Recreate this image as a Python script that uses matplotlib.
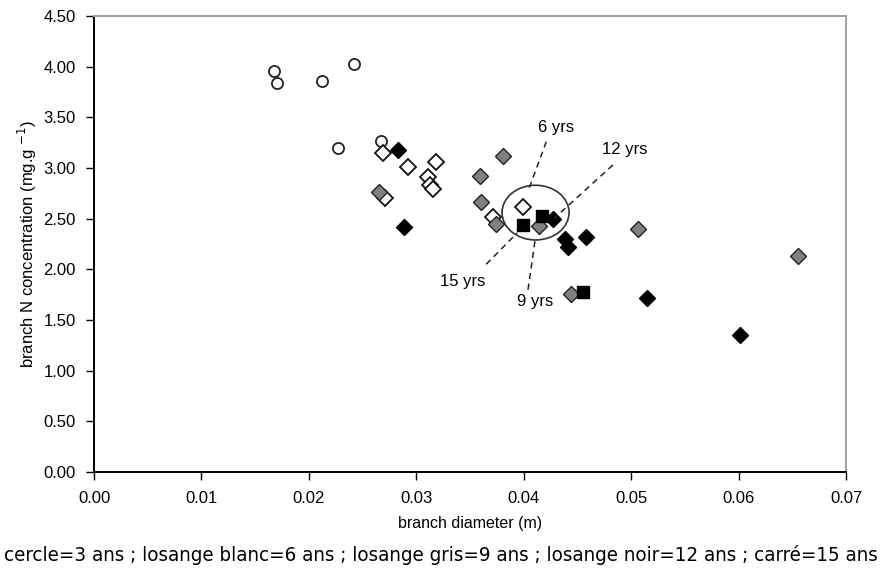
import matplotlib
matplotlib.use('Agg')
import matplotlib.pyplot as plt
from matplotlib.patches import Ellipse

plt.rcParams['font.family'] = ['Liberation Sans', 'DejaVu Sans']

# 3 yrs (circles)
d3 = [0.0168, 0.0170, 0.0212, 0.0242, 0.0227, 0.0267]
n3 = [3.96, 3.84, 3.86, 4.03, 3.20, 3.27]
# 6 yrs (white diamonds)
d6 = [0.0269, 0.0292, 0.0318, 0.0311, 0.0313, 0.0316, 0.0271, 0.0371, 0.0399]
n6 = [3.15, 3.01, 3.06, 2.91, 2.83, 2.79, 2.70, 2.52, 2.62]
# 9 yrs (grey diamonds)
d9 = [0.0265, 0.0381, 0.0359, 0.0360, 0.0374, 0.0414, 0.0444, 0.0506, 0.0655]
n9 = [2.76, 3.12, 2.92, 2.66, 2.45, 2.43, 1.76, 2.40, 2.13]
# 12 yrs (black diamonds)
d12 = [0.0283, 0.0289, 0.0427, 0.0438, 0.0441, 0.0458, 0.0515, 0.0601]
n12 = [3.18, 2.42, 2.50, 2.30, 2.22, 2.32, 1.72, 1.35]
# 15 yrs (squares)
d15 = [0.0399, 0.0417, 0.0455]
n15 = [2.44, 2.53, 1.78]

xticks = [0.00, 0.01, 0.02, 0.03, 0.04, 0.05, 0.06, 0.07]
yticks = [0.0, 0.5, 1.0, 1.5, 2.0, 2.5, 3.0, 3.5, 4.0, 4.5]

fig = plt.figure(figsize=(8.81, 5.70), dpi=100)
ax = fig.add_axes([0.1067, 0.1719, 0.8536, 0.8000])

ax.plot(d3, n3, 'o', ms=8, mfc='white', mec='#222222', mew=1.3, ls='none')
ax.plot(d6, n6, 'D', ms=8, mfc='white', mec='#111111', mew=1.3, ls='none')
ax.plot(d9, n9, 'D', ms=8, mfc='#808080', mec='#222222', mew=1.0, ls='none')
ax.plot(d12, n12, 'D', ms=8, mfc='black', mec='black', mew=1.0, ls='none')
ax.plot(d15, n15, 's', ms=8, mfc='black', mec='black', ls='none')

# circled group and dashed pointer lines
ax.add_patch(Ellipse((0.0411, 2.56), 0.00624, 0.54, fill=False,
                     ec='#333333', lw=1.2))
lk = dict(color='#222222', ls=(0, (4, 3)), lw=1.1)
ax.plot([0.0421, 0.0405], [3.26, 2.80], **lk)
ax.plot([0.0483, 0.0428], [3.03, 2.50], **lk)
ax.plot([0.0365, 0.0394], [2.05, 2.36], **lk)
ax.plot([0.0404, 0.0411], [1.80, 2.32], **lk)
tk = dict(fontsize=12, ha='center', va='center')
ax.text(0.0430, 3.40, '6 yrs', **tk)
ax.text(0.0494, 3.18, '12 yrs', **tk)
ax.text(0.0343, 1.88, '15 yrs', **tk)
ax.text(0.0411, 1.68, '9 yrs', **tk)

ax.set_xlim(0, 0.07)
ax.set_ylim(0, 4.5)
ax.set_xticks(xticks)
ax.set_yticks(yticks)
ax.set_xticklabels(['%.2f' % v for v in xticks], fontsize=12)
ax.set_yticklabels(['%.2f' % v for v in yticks], fontsize=12)
ax.tick_params(direction='out', length=6, width=1)
ax.tick_params(axis='x', pad=8)
ax.tick_params(axis='y', pad=7)

ax.spines['left'].set_color('black')
ax.spines['bottom'].set_color('black')
ax.spines['top'].set_color('#a0a0a0')
ax.spines['right'].set_color('#a0a0a0')
for s in ax.spines.values():
    s.set_linewidth(1.4)

ax.set_xlabel('branch diameter (m)', fontsize=11.5, va='center')
ax.xaxis.set_label_coords(0.5, -0.112)
ax.set_ylabel('branch N concentration (mg.g $^{-1}$)', fontsize=12, va='center')
ax.yaxis.set_label_coords(-0.088, 0.5)

fig.text(0.5, 0.026, 'cercle=3 ans ; losange blanc=6 ans ; losange gris=9 ans ; '
         'losange noir=12 ans ; carré=15 ans', ha='center', va='center',
         fontsize=14.7, family=['DejaVu Sans'], stretch='condensed')

plt.savefig('out.png', dpi=100)
